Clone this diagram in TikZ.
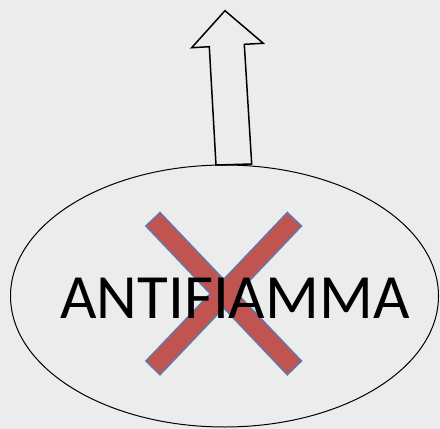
\documentclass[tikz,border=0pt]{standalone}
\usepackage{fontspec}
\setmainfont{Carlito}
\usetikzlibrary{shapes.geometric}
\definecolor{bg}{RGB}{236,236,236}
\definecolor{xred}{RGB}{192,84,80}
\definecolor{xblue}{RGB}{79,129,189}
\tikzset{
  hollowarrow/.style={draw=black, line width=1.5pt, line join=miter},
  ellipsebox/.style={ellipse, draw=black, line width=1pt, minimum width=428pt, minimum height=262pt, inner sep=0pt},
  crossmark/.style={fill=xred, draw=xblue, line width=1.2pt, line join=miter},
  label/.style={inner sep=0pt, anchor=base, font=\fontsize{63}{63}\selectfont}
}
\begin{document}
\begin{tikzpicture}[x=1pt,y=-1pt]
\fill[bg] (0,0) rectangle (440,429);
\useasboundingbox (0,0) rectangle (440,429);
\node[ellipsebox] (e) at (224.5,296) {};
\draw[hollowarrow] (225,10.7) -- (263.3,43.3) -- (244.3,44.3) -- (251.7,164) -- (216,165) -- (209.3,46.7) -- (191.7,47.7) -- cycle;
\draw[crossmark] (160,212.3) -- (223.7,279.2) -- (287.3,212.3) -- (301.7,226) -- (237.4,293.65) -- (301.7,361) -- (287.3,375) -- (223.7,308.1) -- (160,375) -- (145.7,361) -- (210,293.65) -- (145.7,226) -- cycle;
\node[label] (t) at (235,318.3) {ANTIFIAMMA};
\end{tikzpicture}
\end{document}
